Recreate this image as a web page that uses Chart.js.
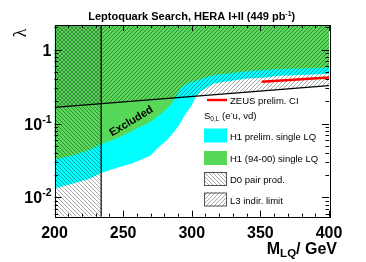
<!DOCTYPE html>
<html>
<head>
<meta charset="utf-8">
<script src="https://cdn.jsdelivr.net/npm/chart.js@4.4.1/dist/chart.umd.min.js"></script>
<style>
  html, body { margin: 0; padding: 0; background: #fff; }
</style>
</head>
<body>
<canvas id="chart" width="366" height="262"></canvas>
<script>
// H1 prelim. single LQ limit (lower edge of cyan band)
const cyanMass   = [200, 213.7, 226, 234, 248, 257, 262, 270, 276, 282, 288, 291.5, 295, 300, 303, 306, 316, 328, 340, 352, 364, 388, 400];
const cyanLambda = [0.0132, 0.0155, 0.0181, 0.0215, 0.026, 0.029, 0.032, 0.037, 0.048, 0.060, 0.081, 0.100, 0.130, 0.177, 0.23, 0.27, 0.349, 0.375, 0.408, 0.415, 0.442, 0.46, 0.47];

// H1 (94-00) single LQ limit (lower edge of green band)
const greenMass   = [200, 214, 226, 234, 248, 260, 270, 273, 278, 282, 285.5, 289, 292, 297, 304, 316, 328, 340, 364, 388, 400];
const greenLambda = [0.0326, 0.0373, 0.0446, 0.053, 0.066, 0.0857, 0.1055, 0.117, 0.137, 0.160, 0.187, 0.24, 0.30, 0.35, 0.385, 0.452, 0.48, 0.511, 0.545, 0.56, 0.574];

// L3 indirect limit
const l3Mass   = [200, 400];
const l3Lambda = [0.165, 0.325];

// D0 pair production mass limit
const d0Mass = 234;

// ZEUS prelim. contact interaction limit
const zeusMass   = [351, 400];
const zeusLambda = [0.367, 0.421];

// axes
const xMin = 200, xMax = 400;
const yMin = 0.0055, yMax = 2.15;
const yTickValues = [1, 0.1, 0.01];
const yTickExp    = ['', '-1', '-2'];

const legendLabels = ['H1 prelim. single LQ', 'H1 (94-00) single LQ', 'D0 pair prod.', 'L3 indir. limit'];

const CYAN = '#00ffff';
const GREEN = '#58d858';
const FONT = '"Liberation Sans", Arial, Helvetica, sans-serif';

const canvas = document.getElementById('chart');
const mainCtx = canvas.getContext('2d');

function makeHatch(dir, size, color, width) {
  const c = document.createElement('canvas');
  c.width = size; c.height = size;
  const g = c.getContext('2d');
  g.strokeStyle = color;
  g.lineWidth = width;
  g.beginPath();
  if (dir === '/') {
    g.moveTo(-1, size + 1); g.lineTo(size + 1, -1);
    g.moveTo(-1, 1); g.lineTo(1, -1);
    g.moveTo(size - 1, size + 1); g.lineTo(size + 1, size - 1);
  } else {
    g.moveTo(-1, -1); g.lineTo(size + 1, size + 1);
    g.moveTo(size - 1, -1); g.lineTo(size + 1, 1);
    g.moveTo(-1, size - 1); g.lineTo(1, size + 1);
  }
  g.stroke();
  return mainCtx.createPattern(c, 'repeat');
}

const hatchL3 = makeHatch('/', 4, 'rgba(0,0,0,0.5)', 0.7);
const hatchD0 = makeHatch('\\', 4, 'rgba(0,0,0,0.5)', 0.7);

const pts = (xs, ys) => xs.map((m, i) => ({ x: m, y: ys[i] }));

// draws a row of text pieces (size, bold, vertical shift)
function drawRich(ctx, parts, x, y, align) {
  let total = 0;
  parts.forEach(p => {
    ctx.font = (p.bold ? 'bold ' : '') + p.size + 'px ' + (p.family || FONT);
    p.w = ctx.measureText(p.t).width;
    total += p.w;
  });
  let cx = align === 'right' ? x - total : align === 'center' ? x - total / 2 : x;
  ctx.textAlign = 'left';
  ctx.textBaseline = 'alphabetic';
  parts.forEach(p => {
    ctx.font = (p.bold ? 'bold ' : '') + p.size + 'px ' + (p.family || FONT);
    ctx.fillText(p.t, cx, y + (p.dy || 0));
    cx += p.w;
  });
}

const decorations = {
  id: 'decorations',
  afterDatasetsDraw(chart) {
    const { ctx, chartArea: a, scales: { x, y } } = chart;
    ctx.save();

    // Excluded label
    ctx.save();
    ctx.translate(x.getPixelForValue(256), y.getPixelForValue(0.107));
    ctx.rotate(-31 * Math.PI / 180);
    ctx.font = 'bold 11px ' + FONT;
    ctx.fillStyle = '#000';
    ctx.textAlign = 'center';
    ctx.textBaseline = 'middle';
    ctx.fillText('Excluded', 0, 0);
    ctx.restore();

    // tick marks, inside the frame
    ctx.strokeStyle = '#000';
    ctx.lineWidth = 1;
    ctx.beginPath();
    for (let m = xMin; m <= xMax; m += 10) {
      const px = Math.round(x.getPixelForValue(m)) + 0.5;
      const len = m % 50 === 0 ? 6 : 3;
      ctx.moveTo(px, a.bottom); ctx.lineTo(px, a.bottom - len);
      ctx.moveTo(px, a.top); ctx.lineTo(px, a.top + len);
    }
    for (let e = -3; e <= 0; e++) {
      for (let k = 1; k <= 9; k++) {
        const v = k * Math.pow(10, e);
        if (v < yMin || v > yMax) continue;
        const py = Math.round(y.getPixelForValue(v)) + 0.5;
        const len = k === 1 ? 7 : 3.5;
        ctx.moveTo(a.left, py); ctx.lineTo(a.left + len, py);
        ctx.moveTo(a.right, py); ctx.lineTo(a.right - len, py);
      }
    }
    ctx.stroke();
    ctx.strokeRect(Math.round(a.left) + 0.5, Math.round(a.top) + 0.5,
      Math.round(a.right - a.left), Math.round(a.bottom - a.top));

    // y tick labels with exponents
    ctx.fillStyle = '#000';
    yTickValues.forEach((v, i) => {
      const py = y.getPixelForValue(v);
      const parts = yTickExp[i]
        ? [{ t: '10', size: 16, bold: true }, { t: yTickExp[i], size: 10.5, bold: true, dy: -7 }]
        : [{ t: '1', size: 16, bold: true }];
      drawRich(ctx, parts, a.left - 3, py + 6, 'right');
    });

    // axis titles
    ctx.save();
    ctx.translate(21, 33);
    ctx.rotate(-Math.PI / 2);
    ctx.font = '18px "Liberation Serif", serif';
    ctx.textAlign = 'center';
    ctx.textBaseline = 'middle';
    ctx.fillText('λ', 0, 0);
    ctx.restore();

    drawRich(ctx, [
      { t: 'M', size: 16, bold: true },
      { t: 'LQ', size: 11.5, bold: true, dy: 3.5 },
      { t: '/ GeV', size: 16, bold: true }
    ], 337, 253.5, 'right');

    // title
    drawRich(ctx, [
      { t: 'Leptoquark Search, HERA I+II (449 pb', size: 11, bold: true },
      { t: '-1', size: 7, bold: true, dy: -4 },
      { t: ')', size: 11, bold: true }
    ], (a.left + a.right) / 2, 20, 'center');

    // legend
    const lx = 204, tx = 230;
    ctx.strokeStyle = '#ff0000';
    ctx.lineWidth = 2.5;
    ctx.beginPath();
    ctx.moveTo(lx + 3, 100); ctx.lineTo(lx + 23, 100);
    ctx.stroke();
    ctx.fillStyle = '#000';
    drawRich(ctx, [{ t: 'ZEUS prelim. CI', size: 9.5 }], tx, 103.5, 'left');
    drawRich(ctx, [
      { t: 'S', size: 9.5 },
      { t: '0,L', size: 6.5, dy: 2 },
      { t: ' (e', size: 9.5 },
      { t: '-', size: 6.5, dy: -4 },
      { t: 'u, νd)', size: 9.5 }
    ], lx, 118.5, 'left');

    const boxFills = [CYAN, GREEN, hatchD0, hatchL3];
    const rowY = [136, 158.5, 179.5, 200];
    legendLabels.forEach((lab, i) => {
      const by = rowY[i] - 7.5;
      if (i >= 2) { ctx.fillStyle = '#fff'; ctx.fillRect(lx, by, 23, 14); }
      ctx.fillStyle = boxFills[i];
      ctx.fillRect(lx, by, 23, 14);
      if (i >= 2) {
        ctx.strokeStyle = '#555';
        ctx.lineWidth = 1;
        ctx.strokeRect(lx + 0.5, by + 0.5, 22, 13);
      }
      ctx.fillStyle = '#000';
      drawRich(ctx, [{ t: lab, size: 9.5 }], tx, rowY[i] + 3.5, 'left');
    });

    ctx.restore();
  }
};

new Chart(canvas, {
  type: 'line',
  data: {
    datasets: [
      {
        label: 'H1 prelim. single LQ',
        data: pts(cyanMass, cyanLambda),
        fill: 'end',
        backgroundColor: CYAN,
        borderWidth: 0,
        order: 7
      },
      {
        label: 'H1 (94-00) single LQ',
        data: pts(greenMass, greenLambda),
        fill: 'end',
        backgroundColor: GREEN,
        borderWidth: 0,
        order: 6
      },
      {
        label: 'D0 pair prod.',
        data: [{ x: xMin, y: yMax }, { x: d0Mass, y: yMax }],
        fill: 'start',
        backgroundColor: hatchD0,
        borderWidth: 0,
        order: 5
      },
      {
        label: 'L3 indir. limit',
        data: pts(l3Mass, l3Lambda),
        fill: 'end',
        backgroundColor: hatchL3,
        borderColor: '#000',
        borderWidth: 1.2,
        order: 4
      },
      {
        label: 'D0 edge',
        data: [{ x: d0Mass, y: yMin }, { x: d0Mass, y: yMax }],
        fill: false,
        borderColor: '#000',
        borderWidth: 1.2,
        order: 3
      },
      {
        label: 'ZEUS prelim. CI',
        data: pts(zeusMass, zeusLambda),
        fill: false,
        borderColor: '#ff0000',
        borderWidth: 2.5,
        order: 2
      }
    ]
  },
  options: {
    responsive: false,
    animation: false,
    layout: { padding: { top: 25, right: 37, left: 0, bottom: 0 } },
    elements: { point: { radius: 0 }, line: { tension: 0 } },
    plugins: {
      legend: { display: false },
      tooltip: { enabled: false },
      title: { display: false }
    },
    scales: {
      x: {
        type: 'linear',
        min: xMin,
        max: xMax,
        grid: { display: false, drawTicks: false },
        border: { display: false },
        ticks: {
          stepSize: 50,
          autoSkip: false,
          maxRotation: 0,
          padding: 7,
          color: '#000',
          font: { family: FONT, size: 16, weight: 'bold' }
        },
        afterFit(s) { s.height = 45.3; }
      },
      y: {
        type: 'logarithmic',
        min: yMin,
        max: yMax,
        grid: { display: false, drawTicks: false },
        border: { display: false },
        ticks: { display: false },
        afterFit(s) { s.width = 54.5; }
      }
    }
  },
  plugins: [decorations]
});
</script>
</body>
</html>
